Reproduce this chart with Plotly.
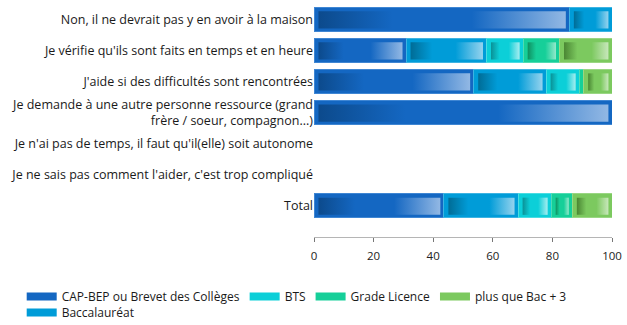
import plotly.graph_objects as go

# Response categories (top to bottom)
categories = [
    "Non, il ne devrait pas y en avoir à la maison",
    "Je vérifie qu'ils sont faits en temps et en heure",
    "J'aide si des difficultés sont rencontrées",
    "Je demande à une autre personne ressource (grand<br>frère / soeur, compagnon...)",
    "Je n'ai pas de temps, il faut qu'il(elle) soit autonome",
    "Je ne sais pas comment l'aider, c'est trop compliqué",
    "Total",
]

# Share (%) of each diploma level per response
cap_bep = [85.7, 30.9, 53.6, 100.0, None, None, 43.6]
baccalaureat = [14.3, 27.0, 24.3, None, None, None, 24.9]
bts = [None, 12.3, 11.1, None, None, None, 11.1]
grade_licence = [None, 12.2, 1.5, None, None, None, 7.1]
plus_bac3 = [None, 17.6, 9.5, None, None, None, 13.3]

x_ticks = [0, 20, 40, 60, 80, 100]

# Stacking order and styling (base, dark, light, edge)
series = [
    ("CAP-BEP ou Brevet des Collèges", cap_bep, "#1467C2", "#0C4A8C", "#92B8E4", "#3F86D3"),
    ("Baccalauréat", baccalaureat, "#009CD8", "#006C96", "#95D3EE", "#3DB3E2"),
    ("BTS", bts, "#0CCFD8", "#0A9196", "#A6EDF0", "#4ADCE2"),
    ("Grade Licence", grade_licence, "#16CF99", "#0F8F5F", "#94E8CB", "#4EDCB2"),
    ("plus que Bac + 3", plus_bac3, "#7CC95F", "#4A8633", "#C8E7BB", "#9AD683"),
]
# legend rows: first row, then second row
legend_row1 = ["CAP-BEP ou Brevet des Collèges", "BTS", "Grade Licence", "plus que Bac + 3"]
legend_row2 = ["Baccalauréat"]

FONT = "Open Sans"
TEXT = "#1a1a1a"
BAR_W = 0.774
INSET_L, INSET_R = 1.5, 1.2   # inner panel inset along x (axis units)
INNER_HALF = BAR_W / 2 - 0.12  # inner panel half height (category units)

W, H = 627, 325
M_L, M_R, M_T, M_B = 314, 15, 4, 88
PLOT_W, PLOT_H = W - M_L - M_R, H - M_T - M_B

rows = list(range(len(categories)))
fig = go.Figure()

# Solid stacked bars
for name, vals, base, dark, light, edge in series:
    fig.add_trace(go.Bar(
        y=rows, x=vals, orientation="h", name=name, width=BAR_W,
        marker=dict(color=base, line=dict(color=edge, width=1)),
        showlegend=False, hoverinfo="skip",
    ))

# Gradient inner panels on each segment
left = [0.0] * len(rows)
for name, vals, base, dark, light, edge in series:
    for i, v in enumerate(vals):
        if v is None:
            continue
        x0, x1 = left[i], left[i] + v
        left[i] = x1
        if v < 4:
            continue
        xa, xb = x0 + INSET_L, x1 - INSET_R
        ya, yb = i - INNER_HALF, i + INNER_HALF + 0.02
        fig.add_trace(go.Scatter(
            x=[xa, xb, xb, xa, xa], y=[ya, ya, yb, yb, ya],
            mode="lines", fill="toself", line=dict(width=0),
            fillgradient=dict(type="horizontal", colorscale=[
                [0, dark], [0.3, base], [0.62, base], [1, light]]),
            showlegend=False, hoverinfo="skip",
        ))

# Legend swatches
colors = {s[0]: s[2] for s in series}
for lg, names in (("legend", legend_row1), ("legend2", legend_row2)):
    for name in names:
        fig.add_trace(go.Scatter(
            x=[None], y=[None], mode="lines", name=name, legend=lg,
            line=dict(color=colors[name], width=8),
        ))


def px_to_paper_x(px):
    return (px - M_L) / PLOT_W


def px_to_paper_y(py):
    return 1 - (py - M_T) / PLOT_H


legend_style = dict(
    orientation="h", xanchor="left", yanchor="top",
    font=dict(family=FONT, size=12, color=TEXT), traceorder="normal",
    bgcolor="rgba(0,0,0,0)", borderwidth=0,
)

fig.update_layout(
    width=W, height=H,
    margin=dict(l=M_L, r=M_R, t=M_T, b=M_B, autoexpand=False),
    barmode="stack",
    paper_bgcolor="white", plot_bgcolor="white",
    font=dict(family=FONT, size=12.5, color=TEXT),
    xaxis=dict(
        range=[0, 100], tickvals=x_ticks, showgrid=False, zeroline=False,
        showline=True, linecolor="#b5b5b5", linewidth=1,
        ticks="outside", ticklen=4, tickcolor="#777",
        ticklabelstandoff=4, tickfont=dict(size=11.5, color="#222"),
        fixedrange=True,
    ),
    yaxis=dict(
        range=[7.0, -0.5], tickvals=rows, ticktext=categories,
        showgrid=False, zeroline=False, showline=False, ticks="",
        tickfont=dict(size=12.5, color=TEXT),
    ),
    legend=dict(x=px_to_paper_x(21.7), y=px_to_paper_y(282), **legend_style),
    legend2=dict(x=px_to_paper_x(21.7), y=px_to_paper_y(298), **legend_style),
    showlegend=True,
)

fig.write_html("out.html")
